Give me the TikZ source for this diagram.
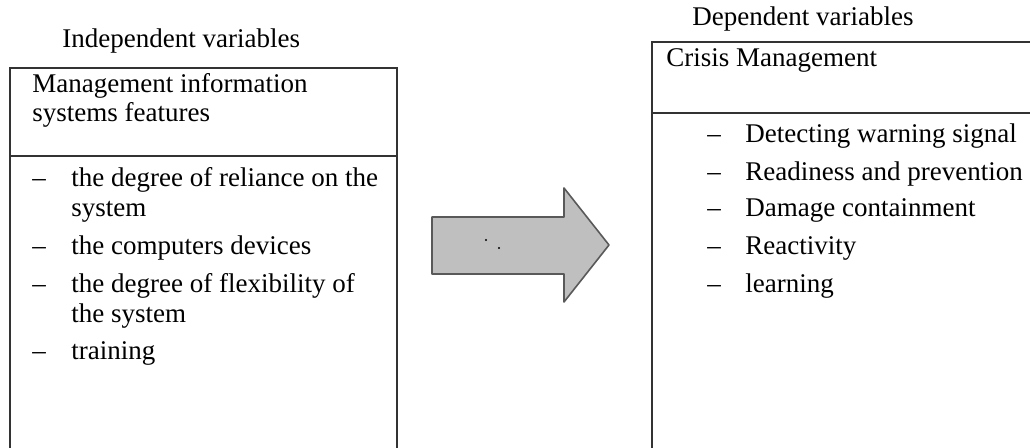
\documentclass[tikz,border=0pt]{standalone}
\usepackage{fontspec}
\setmainfont{Liberation Serif}

\tikzset{
  lbl/.style={anchor=base west, inner sep=0pt, font=\fontsize{13.5}{16}\selectfont},
  frame/.style={draw=black!80, line width=0.8pt},
  bigarrow/.style={draw=black!65, fill=black!25, line width=0.8pt, line join=round}
}

\begin{document}
\begin{tikzpicture}[x=0.5pt,y=-0.5pt]

\useasboundingbox (0,0) rectangle (1030,448);
\clip (0,0) rectangle (1030,448);

% left box
\draw[frame] (10,470) -- (10,68) -- (397,68) -- (397,470);
\draw[frame] (10,156) -- (397,156);

\node[lbl] (indep) at (62,48) {Independent variables};
\node[lbl] (mis1) at (32,93) {Management information};
\node[lbl] (mis2) at (32,122) {systems features};

\node[lbl] (ldash1) at (32,187) {--};
\node[lbl] (reli1) at (71,187) {the degree of reliance on the};
\node[lbl] (reli2) at (71,217) {system};
\node[lbl] (ldash2) at (32,255) {--};
\node[lbl] (comp) at (71,255) {the computers devices};
\node[lbl] (ldash3) at (32,293) {--};
\node[lbl] (flex1) at (71,293) {the degree of flexibility of};
\node[lbl] (flex2) at (71,323) {the system};
\node[lbl] (ldash4) at (32,360) {--};
\node[lbl] (train) at (71,360) {training};

% arrow
\draw[bigarrow] (432,217) -- (564,217) -- (564,188) -- (609,245) -- (564,302) -- (564,274) -- (432,274) -- cycle;
\fill (486,240) circle (0.6pt);
\fill (499,248) circle (0.6pt);

% right box
\draw[frame] (652,470) -- (652,42) -- (1040,42);
\draw[frame] (652,113) -- (1040,113);

\node[lbl] (dep) at (692,26) {Dependent variables};
\node[lbl] (crisis) at (666,67) {Crisis Management};

\node[lbl] (rdash1) at (707,143) {--};
\node[lbl] (detect) at (745,143) {Detecting warning signal};
\node[lbl] (rdash2) at (707,181) {--};
\node[lbl] (ready) at (745,181) {Readiness and prevention};
\node[lbl] (rdash3) at (707,217) {--};
\node[lbl] (damage) at (745,217) {Damage containment};
\node[lbl] (rdash4) at (707,255) {--};
\node[lbl] (react) at (745,255) {Reactivity};
\node[lbl] (rdash5) at (707,293) {--};
\node[lbl] (learn) at (745,293) {learning};

\end{tikzpicture}
\end{document}
